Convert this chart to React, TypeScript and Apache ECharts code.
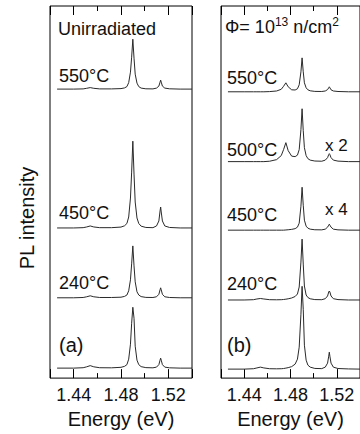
import React, { useEffect, useRef } from "react";
import * as echarts from "echarts";

// Energy grids (eV)
const energyA = [1.426, 1.440, 1.448, 1.451, 1.454, 1.457, 1.462, 1.472, 1.480, 1.483, 1.485, 1.4865, 1.488, 1.489, 1.490, 1.491, 1.492, 1.4935, 1.495, 1.497, 1.501, 1.507, 1.510, 1.512, 1.513, 1.5135, 1.514, 1.515, 1.517, 1.521, 1.530, 1.540];
const energyB = [1.426, 1.440, 1.448, 1.451, 1.454, 1.457, 1.462, 1.468, 1.472, 1.474, 1.476, 1.478, 1.481, 1.484, 1.486, 1.4875, 1.489, 1.490, 1.491, 1.492, 1.4935, 1.495, 1.497, 1.501, 1.507, 1.510, 1.512, 1.513, 1.5135, 1.514, 1.515, 1.517, 1.521, 1.530, 1.540];

// Panel (a): unirradiated, PL intensity above each trace's baseline (arb. units)
const a550 = [0, 0, 0.2, 0.8, 1.5, 0.8, 0.2, 0.2, 0.5, 1.2, 2.5, 6.5, 17, 32, 50, 31, 15, 6, 2.5, 1, 0.3, 0.2, 1, 3, 7, 9, 7, 3, 1, 0.3, 0, 0];
const a450 = [0, 0, 0.3, 1, 2, 1, 0.3, 0.3, 0.9, 2.2, 4.5, 11, 30, 56, 87, 54, 26, 10, 4.5, 1.8, 0.5, 0.3, 2, 7, 17, 21, 16, 7, 2, 0.5, 0, 0];
const a240 = [0, 0, 0.3, 1, 2, 1, 0.3, 0.3, 0.6, 1.4, 2.8, 7, 18, 34, 52, 32, 16, 6, 2.8, 1.2, 0.4, 0.3, 1, 3.5, 8, 10, 8, 3.5, 1, 0.3, 0, 0];
const aAsGrown = [0, 0, 0.4, 1.3, 2.5, 1.3, 0.4, 0.3, 0.8, 1.8, 3.5, 9, 24, 45, 61, 50, 22, 8, 3.5, 1.5, 0.5, 0.3, 1, 3.5, 8, 10, 8, 3.5, 1, 0.3, 0, 0];
const offsetsA = [289.7, 150.5, 80.5, 10];

// Panel (b): Φ = 1e13 n/cm²
const b550 = [0, 0, 0, 0, 0, 0, 0.2, 0.8, 2.5, 5.5, 9, 5, 2, 1.8, 3, 7, 20, 34, 20, 9, 4, 2, 1, 0.4, 0.3, 0.8, 2.2, 4, 5, 4, 2, 0.8, 0.3, 0, 0];
const b500 = [0, 0, 0, 0, 0, 0, 0.4, 2, 6, 12, 19, 11, 5.5, 5, 6.5, 12, 32, 53, 31, 14, 6, 3, 1.5, 0.6, 0.4, 1.5, 4, 7, 8, 7, 4, 1.5, 0.5, 0, 0];
const b450 = [0, 0, 0, 0, 0, 0, 0, 0, 0, 0, 0.2, 0.4, 0.8, 1.5, 3, 7, 24, 43, 25, 10, 4, 2, 1, 0.4, 0.3, 1, 3, 5, 6, 5, 3, 1, 0.3, 0, 0];
const b240 = [0, 0, 0.3, 1, 1.5, 1, 0.3, 0.2, 0.3, 0.5, 0.8, 1.2, 2, 3.5, 6, 13, 38, 61, 36, 14, 5, 2.5, 1.2, 0.4, 0.3, 1.3, 4, 8, 9, 8, 4, 1.3, 0.4, 0, 0];
const bAsIrr = [0, 0, 0.4, 1.2, 2, 1.2, 0.4, 0.3, 0.4, 0.6, 1, 1.5, 2.5, 5, 10, 22, 55, 83, 60, 24, 9, 4, 2, 0.7, 0.5, 2, 6, 13, 17, 13, 6, 2, 0.6, 0.2, 0];
const offsetsB = [287, 217, 148.3, 78.3, 9];

const tickLabels = ["1.44", "1.48", "1.52"];

const FONT = "'Liberation Sans', Arial, Helvetica, sans-serif";
const INK = "#111";
const LINE = "#2a2a2a";

function lineSeries(xs: number[], ys: number[], offset: number, panel: number) {
  return {
    type: "line",
    xAxisIndex: panel * 2,
    yAxisIndex: panel,
    data: xs.map((x, i) => [x, ys[i] + offset]),
    showSymbol: false,
    symbol: "none",
    silent: true,
    lineStyle: { width: 1, color: LINE },
  };
}

function xAxisCfg(gridIndex: number, position: "top" | "bottom") {
  const bottom = position === "bottom";
  return {
    type: "value",
    gridIndex,
    position,
    min: 1.42,
    max: 1.54,
    minInterval: 0.04,
    maxInterval: 0.04,
    axisLine: { show: false, onZero: false },
    splitLine: { show: false },
    axisTick: { show: true, inside: true, length: 9, lineStyle: { color: "#000", width: 1 } },
    minorTick: { show: true, splitNumber: 2, length: 5, lineStyle: { color: "#000", width: 1 } },
    axisLabel: {
      show: bottom,
      showMinLabel: false,
      showMaxLabel: false,
      margin: 8,
      fontSize: 18,
      fontFamily: FONT,
      color: INK,
      formatter: (v: number) => (tickLabels.includes(v.toFixed(2)) ? v.toFixed(2) : ""),
    },
    name: bottom ? "Energy (eV)" : "",
    nameLocation: "middle",
    nameGap: 29,
    nameTextStyle: { fontSize: 20, fontFamily: FONT, color: INK },
  };
}

function label(text: string, x: number, y: number, size = 18) {
  return {
    type: "text",
    x,
    y,
    silent: true,
    style: { text, fontSize: size, fontFamily: FONT, fill: INK, align: "left", verticalAlign: "middle" },
  };
}

export default function App() {
  const ref = useRef<HTMLDivElement>(null);

  useEffect(() => {
    if (!ref.current) return;
    const chart = echarts.init(ref.current, undefined, { renderer: "svg" });
    const option: any = {
      animation: false,
      backgroundColor: "#fff",
      grid: [
        { left: 50, top: 6, width: 142, height: 373, show: true, borderColor: "#000", borderWidth: 1, backgroundColor: "transparent" },
        { left: 221, top: 6, width: 142, height: 373, show: true, borderColor: "#000", borderWidth: 1, backgroundColor: "transparent" },
      ],
      xAxis: [xAxisCfg(0, "bottom"), xAxisCfg(0, "top"), xAxisCfg(1, "bottom"), xAxisCfg(1, "top")],
      yAxis: [
        { type: "value", gridIndex: 0, min: 0, max: 373, show: false },
        { type: "value", gridIndex: 1, min: 0, max: 373, show: false },
      ],
      series: [
        lineSeries(energyA, a550, offsetsA[0], 0),
        lineSeries(energyA, a450, offsetsA[1], 0),
        lineSeries(energyA, a240, offsetsA[2], 0),
        lineSeries(energyA, aAsGrown, offsetsA[3], 0),
        lineSeries(energyB, b550, offsetsB[0], 1),
        lineSeries(energyB, b500, offsetsB[1], 1),
        lineSeries(energyB, b450, offsetsB[2], 1),
        lineSeries(energyB, b240, offsetsB[3], 1),
        lineSeries(energyB, bAsIrr, offsetsB[4], 1),
      ],
      graphic: [
        label("Unirradiated", 58, 29),
        label("550°C", 59, 76),
        label("450°C", 59, 213),
        label("240°C", 59, 283),
        label("(a)", 59, 345, 20),
        {
          type: "text",
          x: 225,
          y: 27,
          silent: true,
          style: {
            text: "{m|Φ= 10}{s|13}{m| n/cm}{s|2}",
            fill: INK,
            align: "left",
            verticalAlign: "middle",
            rich: {
              m: { fontSize: 18, lineHeight: 22, fontFamily: FONT, fill: INK },
              s: { fontSize: 12, lineHeight: 12, fontFamily: FONT, fill: INK, verticalAlign: "top" },
            },
          },
        },
        label("550°C", 227, 78),
        label("500°C", 227, 150),
        label("x 2", 325, 145, 17),
        label("450°C", 227, 215),
        label("x 4", 325, 209, 17),
        label("240°C", 227, 284),
        label("(b)", 227, 345, 20),
        {
          type: "text",
          x: 27,
          y: 218,
          rotation: Math.PI / 2,
          silent: true,
          style: { text: "PL intensity", fontSize: 20, fontFamily: FONT, fill: INK, align: "center", verticalAlign: "middle" },
        },
      ],
    };
    chart.setOption(option);
    return () => chart.dispose();
  }, []);

  return (
    <div
      ref={ref}
      style={{ position: "fixed", left: 0, top: 0, width: 360, height: 434, background: "#fff" }}
    />
  );
}
